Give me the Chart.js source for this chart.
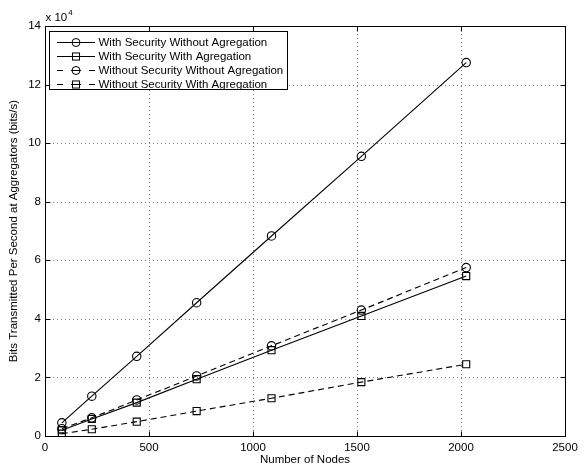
<!DOCTYPE html>
<html><head><meta charset="utf-8">
<script src="https://cdn.jsdelivr.net/npm/chart.js@4"></script>
<style>html,body{margin:0;padding:0;background:#fff}#wrap{width:584px;height:466px}</style>
</head><body><div id="wrap"><canvas id="c" width="584" height="466"></canvas></div>
<script>
// Data (y values in units of 10^4 bits/s)
const nodes = [81, 225, 441, 729, 1089, 1521, 2025];
const secNoAgg = [0.45, 1.36, 2.72, 4.55, 6.83, 9.55, 12.75];
const secAgg = [0.20, 0.58, 1.14, 1.94, 2.93, 4.10, 5.46];
const noSecNoAgg = [0.25, 0.62, 1.23, 2.05, 3.08, 4.30, 5.75];
const noSecAgg = [0.08, 0.23, 0.49, 0.85, 1.29, 1.84, 2.45];
const seriesLabels = ['With Security Without Agregation', 'With Security With Agregation', 'Without Security Without Agregation', 'Without Security With Agregation'];
const xTicks = [0, 500, 1000, 1500, 2000, 2500];
const yTicks = [0, 2, 4, 6, 8, 10, 12, 14];
const xTitle = 'Number of Nodes';
const yTitle = 'Bits Transmitted Per Second at Aggregators (bits/s)';

const FONT = 'Liberation Sans, Arial, Helvetica, sans-serif';
const FS = 11.5;
const DASH = [6, 4];

function ds(label, vals, style, dashed) {
  return {
    label,
    data: nodes.map((n, i) => ({x: n, y: vals[i]})),
    borderColor: '#000', borderWidth: 1.1,
    borderDash: dashed ? DASH : [],
    pointStyle: style,
    pointRadius: style === 'rect' ? 5 : 4.2,
    pointBorderColor: '#000', pointBackgroundColor: 'rgba(0,0,0,0)',
    pointBorderWidth: 1.1,
    fill: false, tension: 0
  };
}

const matlabPlugin = {
  id: 'matlab',
  beforeDatasetsDraw(chart) {
    const {ctx, chartArea: a, scales: {x, y}} = chart;
    ctx.save();
    ctx.strokeStyle = '#808080';
    ctx.lineWidth = 1;
    ctx.setLineDash([1, 3]);
    xTicks.forEach(v => {
      const px = Math.round(x.getPixelForValue(v)) + 0.5;
      if (px <= a.left + 1 || px >= a.right - 1) return;
      ctx.beginPath(); ctx.moveTo(px, a.top); ctx.lineTo(px, a.bottom); ctx.stroke();
    });
    yTicks.forEach(v => {
      const py = Math.round(y.getPixelForValue(v)) + 0.5;
      if (py <= a.top + 1 || py >= a.bottom - 1) return;
      ctx.beginPath(); ctx.moveTo(a.left, py); ctx.lineTo(a.right, py); ctx.stroke();
    });
    ctx.restore();
  },
  afterDatasetsDraw(chart) {
    const {ctx, chartArea: a, scales: {x, y}} = chart;
    ctx.save();
    ctx.setLineDash([]);
    ctx.strokeStyle = '#000';
    ctx.lineWidth = 1;
    const L = Math.round(a.left) + 0.5, R = Math.round(a.right) + 0.5;
    const T = Math.round(a.top) + 0.5, B = Math.round(a.bottom) + 0.5;
    ctx.strokeRect(L, T, R - L, B - T);
    const tl = 5;
    xTicks.forEach(v => {
      const px = Math.round(x.getPixelForValue(v)) + 0.5;
      ctx.beginPath(); ctx.moveTo(px, B); ctx.lineTo(px, B - tl); ctx.stroke();
      ctx.beginPath(); ctx.moveTo(px, T); ctx.lineTo(px, T + tl); ctx.stroke();
    });
    yTicks.forEach(v => {
      const py = Math.round(y.getPixelForValue(v)) + 0.5;
      ctx.beginPath(); ctx.moveTo(L, py); ctx.lineTo(L + tl, py); ctx.stroke();
      ctx.beginPath(); ctx.moveTo(R, py); ctx.lineTo(R - tl, py); ctx.stroke();
    });

    // multiplier
    ctx.fillStyle = '#000';
    ctx.textBaseline = 'middle';
    ctx.textAlign = 'left';
    ctx.font = FS + 'px ' + FONT;
    ctx.fillText('x 10', L, 18);
    const w = ctx.measureText('x 10').width;
    ctx.font = '8px ' + FONT;
    ctx.fillText('4', L + w + 1, 13);

    // legend
    const bx = 49.5, by = 31.5, bw = 238, bh = 58;
    ctx.fillStyle = '#fff';
    ctx.fillRect(bx, by, bw, bh);
    ctx.strokeRect(bx, by, bw, bh);
    chart.data.datasets.forEach((d, i) => {
      const ry = Math.round(42 + i * 14) + 0.5;
      ctx.strokeStyle = '#000';
      ctx.lineWidth = 1;
      ctx.setLineDash([]);
      const segs = (d.borderDash && d.borderDash.length) ? [[57, 63], [71, 81], [89, 95]] : [[57, 95]];
      segs.forEach(sg => { ctx.beginPath(); ctx.moveTo(sg[0], ry); ctx.lineTo(sg[1], ry); ctx.stroke(); });
      if (d.pointStyle === 'circle') {
        ctx.beginPath(); ctx.arc(76, ry, 4, 0, Math.PI * 2); ctx.stroke();
      } else {
        const s = 5 * Math.SQRT1_2;
        ctx.strokeRect(76 - s, ry - s, 2 * s, 2 * s);
      }
      ctx.fillStyle = '#000';
      ctx.font = FS + 'px ' + FONT;
      ctx.textAlign = 'left';
      ctx.textBaseline = 'middle';
      ctx.fillText(d.label, 98.5, ry);
    });
    ctx.restore();
  }
};

new Chart(document.getElementById('c'), {
  type: 'line',
  data: {
    datasets: [
      ds(seriesLabels[0], secNoAgg, 'circle', false),
      ds(seriesLabels[1], secAgg, 'rect', false),
      ds(seriesLabels[2], noSecNoAgg, 'circle', true),
      ds(seriesLabels[3], noSecAgg, 'rect', true)
    ]
  },
  options: {
    responsive: false,
    devicePixelRatio: 1,
    animation: false,
    layout: {padding: {top: 26, right: 19, left: 0, bottom: 0}},
    plugins: {legend: {display: false}, tooltip: {enabled: false}},
    scales: {
      x: {
        type: 'linear', min: 0, max: 2500,
        afterBuildTicks: s => { s.ticks = xTicks.map(v => ({value: v})); },
        afterFit: s => { s.height = 30; },
        grid: {display: false, drawTicks: false},
        border: {display: false},
        ticks: {color: '#000', font: {family: FONT, size: FS}, padding: 5, maxRotation: 0, autoSkip: false, callback: v => String(v)},
        title: {display: true, text: xTitle, color: '#000', font: {family: FONT, size: FS, lineHeight: 1}, padding: {top: 0, bottom: 0}}
      },
      y: {
        type: 'linear', min: 0, max: 14,
        afterBuildTicks: s => { s.ticks = yTicks.map(v => ({value: v})); },
        afterFit: s => { s.width = 45; },
        grid: {display: false, drawTicks: false},
        border: {display: false},
        ticks: {color: '#000', font: {family: FONT, size: FS}, padding: 4, autoSkip: false, callback: v => String(v)},
        title: {display: true, text: yTitle, color: '#000', font: {family: FONT, size: FS, lineHeight: 1}, padding: {top: 8, bottom: 0}}
      }
    }
  },
  plugins: [matlabPlugin]
});
</script>
</body></html>
